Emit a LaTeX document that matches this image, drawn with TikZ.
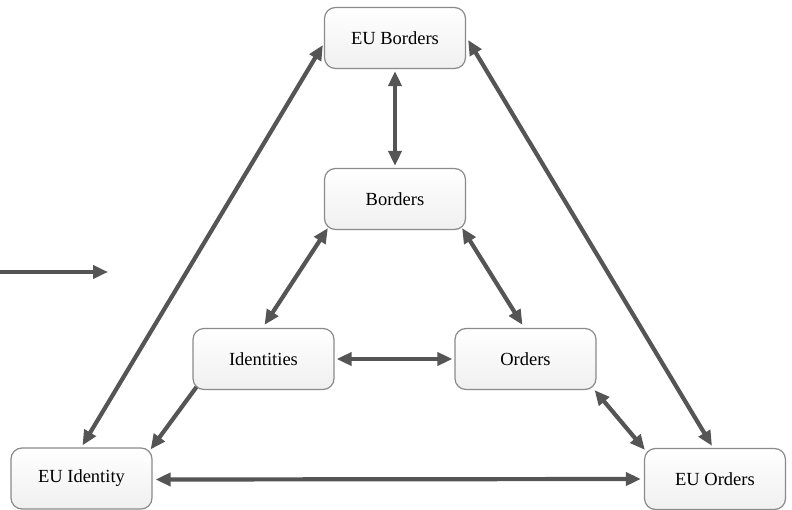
\documentclass[tikz,border=0pt]{standalone}
\usepackage{fontspec}
\setmainfont{Liberation Serif}
\usetikzlibrary{arrows.meta,calc}
\definecolor{arrowgray}{HTML}{555555}
\definecolor{boxline}{HTML}{8A8A8A}
\begin{document}
\begin{tikzpicture}[x=1pt,y=-1pt,
  box/.style={draw=boxline, line width=1.2pt, rounded corners=11pt,
    top color=white, bottom color=black!6, minimum width=141pt, minimum height=61pt,
    font=\fontsize{18.5}{22}\selectfont, inner sep=0pt},
  link/.style={draw=arrowgray, line width=4.2pt, {Triangle[length=15pt,width=13pt]}-{Triangle[length=15pt,width=13pt]}},
  onelink/.style={draw=arrowgray, line width=4.2pt, -{Triangle[length=15pt,width=13pt]}}]
\useasboundingbox (0,0) rectangle (792,510);
\node[box] (EUB) at (395,38) {EU Borders};
\node[box] (B) at (395,199) {Borders};
\node[box] (I) at (263.5,359) {Identities};
\node[box] (O) at (525.5,359) {Orders};
\node[box] (EUI) at (81.5,478.5) {EU Identity};
\node[box] (EUO) at (715,479) {EU Orders};
\coordinate (L1) at (0,272);
\coordinate (L2) at (108,272);
\draw[onelink] (L1) -- (L2);
\draw[link] ($(EUB.south)+(0,2)$) -- ($(B.north)+(0,-2)$);
\draw[link] ($(EUB.west)+(-1,7)$) -- ($(EUI.north)+(1,-2)$);
\draw[link] ($(EUB.east)+(2,2)$) -- ($(EUO.north)+(-3,-2)$);
\draw[link] ($(B.south west)+(4,-2)$) -- ($(I.north)+(1,-3)$);
\draw[link] ($(B.south east)+(-4,-2)$) -- ($(O.north)+(-3,-3)$);
\draw[link] ($(I.east)+(2,0)$) -- ($(O.west)+(-2,0)$);
\draw[onelink] ($(I.south west)+(4,-3)$) -- ($(EUI.north east)+(-2,2)$);
\draw[link] ($(O.south east)+(-2,0)$) -- ($(EUO.north west)+(1,2)$);
\draw[link] ($(EUI.east)+(3,1)$) -- ($(EUO.west)+(-3,0)$);
\end{tikzpicture}
\end{document}
